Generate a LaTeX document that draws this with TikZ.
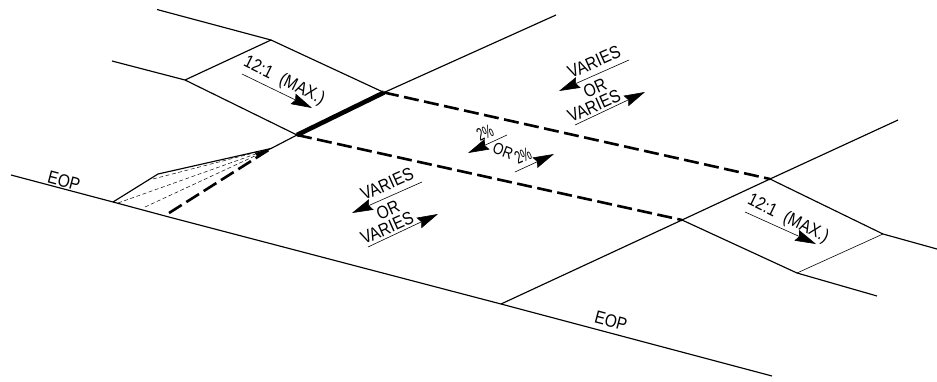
\documentclass[tikz,border=0pt]{standalone}
\usepackage{fontspec}
\setmainfont{Liberation Sans}
\usetikzlibrary{arrows.meta}
\newcommand{\tall}[1]{\scalebox{0.86}[1]{#1}}
\newcommand{\slim}[1]{\scalebox{0.62}[1]{#1}}
\tikzset{
  x=1pt,y=-1pt,
  road/.style={line width=1.15pt,line join=round},
  thinroad/.style={line width=0.6pt},
  heavy/.style={line width=4.6pt},
  dashroad/.style={line width=2.6pt,dash pattern=on 15pt off 5.5pt},
  fine/.style={line width=0.5pt,dash pattern=on 4pt off 2.5pt},
  pointer/.style={line width=0.6pt,-{Stealth[length=21pt,width=11.5pt,inset=2.5pt]}},
  lab/.style={inner sep=0pt,font=\fontsize{18}{19}\selectfont},
}
\begin{document}
\begin{tikzpicture}
\useasboundingbox (0,0) rectangle (937,381);
% key points
\coordinate (tl0) at (157,9.5);
\coordinate (tl1) at (271,40);
\coordinate (tl2) at (384,92.5);
\coordinate (bl0) at (112,61);
\coordinate (bl1) at (185,80);
\coordinate (bl2) at (297,135);
\coordinate (apex) at (271,148.5);
\coordinate (ne) at (556,15);
\coordinate (e0) at (11,175);
\coordinate (e1) at (113,202);
\coordinate (e2) at (167,216.5);
\coordinate (e3) at (501,304);
\coordinate (e4) at (772,376);
\coordinate (t1) at (158,174);
\coordinate (r0) at (770,179);
\coordinate (r1) at (682,220);
\coordinate (r2) at (898,120);
\coordinate (rt1) at (883,234);
\coordinate (rt2) at (937,249);
\coordinate (rb1) at (797,273);
\coordinate (rb2) at (877,296);
% pavement
\draw[road] (tl0) -- (tl1) -- (tl2);
\draw[road] (bl0) -- (bl1) -- (bl2);
\draw[road] (bl1) -- (tl1);
\draw[road] (apex) -- (bl2);
\draw[heavy] (bl2) -- (tl2);
\draw[road] (tl2) -- (ne);
\draw[road] (e0) -- (e1) -- (e2) -- (e3) -- (e4);
\draw[road] (e3) -- (r1) -- (r0) -- (r2);
\draw[road] (r0) -- (rt1) -- (rt2);
\draw[road] (r1) -- (rb1) -- (rb2);
\draw[thinroad] (rb1) -- (rt1);
\draw[dashroad] (tl2) -- (r0);
\draw[dashroad] (bl2) -- (r1);
% taper
\draw[road] (e1) -- (t1) -- (apex);
\fill (apex) -- (255,153) -- (258,158) -- cycle;
\draw[dashroad] (169,213) -- (apex);
\draw[fine] (153,179) -- (apex);
\draw[fine] (118,203) -- (apex);
\draw[fine] (145,207) -- (apex);
% labels
\node[lab,rotate=-26] (m1) at (284,81) {\tall{12:1 \,\,(MAX.)}};
\draw[pointer] (242,74) -- (312,108);
\node[lab,rotate=-26] (m2) at (788,219) {\tall{12:1 \,\,(MAX.)}};
\draw[pointer] (745,212) -- (816,244);
% lower varies
\node[lab,rotate=24] (v1) at (387,184) {\tall{VARIES}};
\node[lab,rotate=24] (v2) at (388,210) {\tall{OR}};
\node[lab,rotate=24] (v3) at (387,228) {\tall{VARIES}};
\draw[pointer] (422,182) -- (352,213);
\draw[pointer] (368,247) -- (438,214);
% upper varies
\node[lab,rotate=24] (v4) at (594,62) {\tall{VARIES}};
\node[lab,rotate=24] (v5) at (595,88) {\tall{OR}};
\node[lab,rotate=24] (v6) at (594,106) {\tall{VARIES}};
\draw[pointer] (629,60) -- (559,91);
\draw[pointer] (575,125) -- (645,92);
% grade
\node[lab,rotate=24] (g1) at (485,133) {\slim{2\%}};
\node[lab,rotate=-20] (g2) at (503,151) {\scalebox{0.75}[0.9]{OR}};
\node[lab,rotate=24] (g3) at (523,156) {\slim{2\%}};
\draw[pointer] (507,135) -- (468,153);
\draw[pointer] (515,172) -- (554,154);
% edge labels
\node[lab,rotate=-15] (eop1) at (64,181) {\tall{EOP}};
\node[lab,rotate=-15] (eop2) at (611,321) {\tall{EOP}};
\end{tikzpicture}
\end{document}
